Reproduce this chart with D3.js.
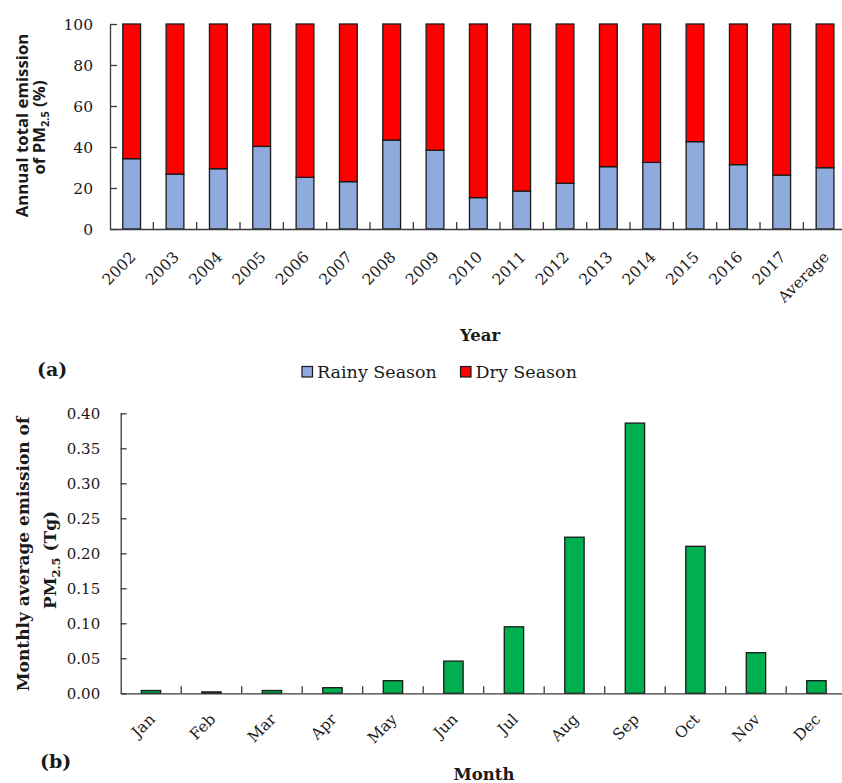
<!DOCTYPE html>
<html>
<head>
<meta charset="utf-8">
<script src="https://cdn.jsdelivr.net/npm/d3@7"></script>
<style>
  html, body { margin: 0; padding: 0; background: #fff; }
  svg { display: block; }
  text { fill: #1a1a1a; }
</style>
</head>
<body>
<svg id="chart" width="842" height="783"></svg>
<script>
// ---- Data ----
const years = ["2002","2003","2004","2005","2006","2007","2008","2009","2010","2011","2012","2013","2014","2015","2016","2017","Average"];
const rainyShare = [34.3, 26.8, 29.4, 40.3, 25.2, 23.1, 43.4, 38.4, 15.3, 18.5, 22.3, 30.4, 32.5, 42.6, 31.4, 26.3, 29.9];
const yTicksA = [0, 20, 40, 60, 80, 100];

const months = ["Jan","Feb","Mar","Apr","May","Jun","Jul","Aug","Sep","Oct","Nov","Dec"];
const monthlyEmission = [0.004, 0.002, 0.004, 0.008, 0.018, 0.046, 0.095, 0.223, 0.386, 0.210, 0.058, 0.018];
const yTicksB = [0.00, 0.05, 0.10, 0.15, 0.20, 0.25, 0.30, 0.35, 0.40];

const seriesNames = ["Rainy Season", "Dry Season"];
const colors = { rainy: "#8FAADC", dry: "#FF0000", green: "#00B050" };

const SERIF = "'DejaVu Serif', serif";
const SANS = "'Open Sans', 'DejaVu Sans', sans-serif";
const AXIS = "#3a3a3a";
const EDGE = "#1a1a1a";

const svg = d3.select("#chart");

// ================= Chart (a) =================
const A = { left: 110, right: 846.7, top: 24, bottom: 229 };
const xA = d3.scaleBand().domain(years).range([A.left, A.right]).paddingInner(0).paddingOuter(0);
const yA = d3.scaleLinear().domain([0, 100]).range([A.bottom, A.top]);
const barWA = xA.bandwidth() * 0.41;

const gA = svg.append("g");

const stackA = years.map((y, i) => ({ year: y, rainy: rainyShare[i], dry: 100 - rainyShare[i] }));
const stacked = d3.stack().keys(["rainy", "dry"])(stackA);

gA.selectAll("g.series").data(stacked).join("g")
  .attr("fill", d => colors[d.key])
  .selectAll("rect").data(d => d).join("rect")
  .attr("x", d => xA(d.data.year) + xA.bandwidth() / 2 - barWA / 2)
  .attr("width", barWA)
  .attr("y", d => yA(d[1]))
  .attr("height", d => yA(d[0]) - yA(d[1]))
  .attr("stroke", EDGE)
  .attr("stroke-width", 1.3);

const yAxisA = gA.append("g").attr("transform", `translate(${A.left},0)`)
  .call(d3.axisLeft(yA).tickValues(yTicksA).tickSizeInner(-7).tickSizeOuter(0).tickPadding(17).tickFormat(d3.format("d")));
yAxisA.select(".domain").attr("stroke", AXIS).attr("stroke-width", 1.3);
yAxisA.selectAll(".tick line").attr("stroke", AXIS).attr("stroke-width", 1.3);
yAxisA.selectAll(".tick text").attr("font-family", SERIF).attr("font-size", 15.5).attr("fill", "#333").attr("dy", "0.36em");

const xAxisA = gA.append("g").attr("transform", `translate(0,${A.bottom})`)
  .call(d3.axisBottom(xA).tickSizeInner(0).tickSizeOuter(0));
xAxisA.select(".domain").attr("stroke", AXIS).attr("stroke-width", 1.3);
xAxisA.selectAll(".tick line").remove();
xAxisA.selectAll(".tick text")
  .attr("font-family", SERIF).attr("font-size", 15.5).attr("fill", "#333")
  .attr("text-anchor", "end").attr("y", 0).attr("dy", 0)
  .attr("transform", "translate(5,29) rotate(-45)");
gA.append("g").selectAll("line").data(years.slice(1)).join("line")
  .attr("x1", d => xA(d)).attr("x2", d => xA(d))
  .attr("y1", A.bottom).attr("y2", A.bottom - 7)
  .attr("stroke", AXIS).attr("stroke-width", 1.3);

const ytA1 = gA.append("text").attr("transform", "translate(28,125.5) rotate(-90)")
  .attr("text-anchor", "middle").attr("font-family", SANS).attr("font-weight", "bold").attr("font-size", 16.8)
  .text("Annual total emission");
const ytA2 = gA.append("text").attr("transform", "translate(45,127.5) rotate(-90)")
  .attr("text-anchor", "middle").attr("font-family", SANS).attr("font-weight", "bold").attr("font-size", 16.8);
ytA2.append("tspan").text("of PM");
ytA2.append("tspan").attr("font-size", 11).attr("dy", 4).text("2.5");
ytA2.append("tspan").attr("dy", -4).text(" (%)");

gA.append("text").attr("x", 480).attr("y", 340.7).attr("text-anchor", "middle")
  .attr("font-family", SERIF).attr("font-weight", "bold").attr("font-size", 16.5).text("Year");

gA.append("text").attr("x", 37).attr("y", 376).attr("font-family", SERIF).attr("font-weight", "bold")
  .attr("font-size", 19).text("(a)");

const legendItems = [
  { name: seriesNames[0], color: colors.rainy, x: 302 },
  { name: seriesNames[1], color: colors.dry, x: 460.5 }
];
const lg = svg.append("g").selectAll("g").data(legendItems).join("g");
lg.append("rect").attr("x", d => d.x).attr("y", 366.5).attr("width", 10.5).attr("height", 10.5)
  .attr("fill", d => d.color).attr("stroke", EDGE).attr("stroke-width", 1.2);
lg.append("text").attr("x", d => d.x + 15).attr("y", 377.5)
  .attr("font-family", SERIF).attr("font-size", 17.5).attr("fill", "#1a1a1a").text(d => d.name);

// ================= Chart (b) =================
const B = { left: 120.7, right: 846.7, top: 413.3, bottom: 693.3 };
const xB = d3.scaleBand().domain(months).range([B.left, B.right]).paddingInner(0).paddingOuter(0);
const yB = d3.scaleLinear().domain([0, 0.4]).range([B.bottom, B.top]);
const barWB = xB.bandwidth() * 0.32;

const gB = svg.append("g");

gB.selectAll("rect").data(months.map((m, i) => ({ m, v: monthlyEmission[i] }))).join("rect")
  .attr("x", d => xB(d.m) + xB.bandwidth() / 2 - barWB / 2)
  .attr("width", barWB)
  .attr("y", d => yB(d.v))
  .attr("height", d => yB(0) - yB(d.v))
  .attr("fill", colors.green)
  .attr("stroke", EDGE).attr("stroke-width", 1.3);

const yAxisB = gB.append("g").attr("transform", `translate(${B.left},0)`)
  .call(d3.axisLeft(yB).tickValues(yTicksB).tickSizeInner(-6).tickSizeOuter(0).tickPadding(20.5).tickFormat(d3.format(".2f")));
yAxisB.select(".domain").attr("stroke", AXIS).attr("stroke-width", 1.3);
yAxisB.selectAll(".tick line").attr("stroke", AXIS).attr("stroke-width", 1.3);
yAxisB.selectAll(".tick text").attr("font-family", SERIF).attr("font-size", 15).attr("fill", "#333").attr("dy", "0.36em");

const xAxisB = gB.append("g").attr("transform", `translate(0,${B.bottom})`)
  .call(d3.axisBottom(xB).tickSizeInner(0).tickSizeOuter(0));
xAxisB.select(".domain").attr("stroke", AXIS).attr("stroke-width", 1.3);
xAxisB.selectAll(".tick line").remove();
xAxisB.selectAll(".tick text")
  .attr("font-family", SERIF).attr("font-size", 15.5).attr("fill", "#333")
  .attr("text-anchor", "end").attr("y", 0).attr("dy", 0)
  .attr("transform", "translate(5,27) rotate(-45)");
gB.append("g").selectAll("line").data(months.slice(1)).join("line")
  .attr("x1", d => xB(d)).attr("x2", d => xB(d))
  .attr("y1", B.bottom).attr("y2", B.bottom - 7)
  .attr("stroke", AXIS).attr("stroke-width", 1.3);

gB.append("text").attr("transform", "translate(29,554) rotate(-90)")
  .attr("text-anchor", "middle").attr("font-family", SERIF).attr("font-weight", "bold").attr("font-size", 17)
  .text("Monthly average emission of");
const ytB2 = gB.append("text").attr("transform", "translate(56,560) rotate(-90)")
  .attr("text-anchor", "middle").attr("font-family", SERIF).attr("font-weight", "bold").attr("font-size", 17);
ytB2.append("tspan").text("PM");
ytB2.append("tspan").attr("font-size", 11.5).attr("dy", 4).text("2.5");
ytB2.append("tspan").attr("dy", -4).text(" (Tg)");

gB.append("text").attr("x", 484).attr("y", 780).attr("text-anchor", "middle")
  .attr("font-family", SERIF).attr("font-weight", "bold").attr("font-size", 16.5).text("Month");

gB.append("text").attr("x", 40).attr("y", 768).attr("font-family", SERIF).attr("font-weight", "bold")
  .attr("font-size", 19).text("(b)");
</script>
</body>
</html>
